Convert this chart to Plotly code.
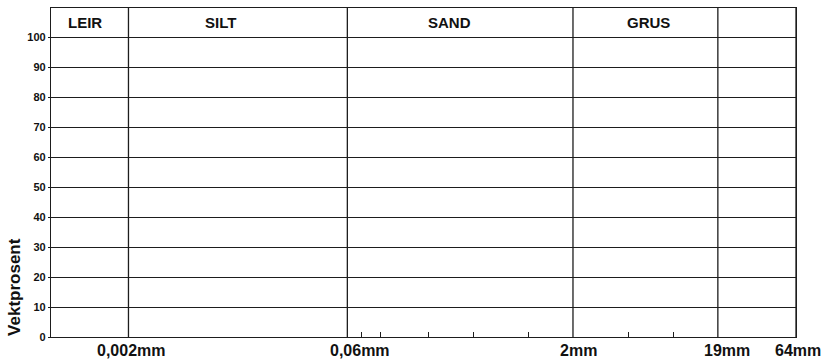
import math
import plotly.graph_objects as go

# Grain-size classes and their boundaries (mm)
SECTIONS = ["LEIR", "SILT", "SAND", "GRUS"]
BOUNDARY_MM = [0.002, 0.06, 2, 19, 64]
BOUNDARY_LABELS = ["0,002mm", "0,06mm", "2mm", "19mm", "64mm"]
# Sieve sizes marked as short ticks on the base line (mm)
SIEVE_MM = [0.075, 0.1, 0.212, 0.425, 1.0, 4.75, 9.5]
PERCENT_TICKS = [0, 10, 20, 30, 40, 50, 60, 70, 80, 90, 100]
Y_TITLE = "Vektprosent"

# Layout constants
X_MIN_MM = 0.0006
Y_TOP = 109.67
INK = "#1d1d1d"
LW = 1.3
FONT = "Liberation Sans, Arial, sans-serif"
NARROW = "Liberation Sans Narrow, Arial Narrow, Liberation Sans, sans-serif"
HEADER_SHIFT = [-5, -17, -11, 3]
LABEL_SHIFT = [3, 13, 6, 9, 2]

fig = go.Figure()

# vertical class boundaries across the full height of the form
vx, vy = [], []
for b in BOUNDARY_MM:
    vx += [b, b, None]
    vy += [0, Y_TOP, None]
fig.add_trace(go.Scatter(x=vx, y=vy, mode="lines",
                         line=dict(color=INK, width=LW),
                         hoverinfo="skip", showlegend=False))

# class names in the header row
edges = [X_MIN_MM] + BOUNDARY_MM
for i, name in enumerate(SECTIONS):
    centre = (math.log10(edges[i]) + math.log10(edges[i + 1])) / 2
    fig.add_annotation(x=centre, y=(100 + Y_TOP) / 2, xref="x", yref="y",
                       text=name, showarrow=False, xanchor="center", yanchor="middle",
                       xshift=HEADER_SHIFT[i],
                       font=dict(family=FONT, size=15, color="#111", weight="bold"))

# boundary size labels under the base line
for i, (b, lab) in enumerate(zip(BOUNDARY_MM, BOUNDARY_LABELS)):
    fig.add_annotation(x=math.log10(b), y=0, xref="x", yref="paper",
                       text=lab, showarrow=False, xanchor="center", yanchor="middle",
                       xshift=LABEL_SHIFT[i], yshift=-13,
                       font=dict(family=FONT, size=16, color="#111", weight="bold"))

# y-axis title
fig.add_annotation(x=0, y=16.7, xref="paper", yref="y", text=Y_TITLE,
                   textangle=-90, showarrow=False, xanchor="center", yanchor="middle",
                   xshift=-36,
                   font=dict(family=FONT, size=17, color="#111", weight="bold"))

fig.update_xaxes(type="log",
                 range=[math.log10(X_MIN_MM), math.log10(BOUNDARY_MM[-1])],
                 tickvals=SIEVE_MM, ticks="inside", ticklen=5, tickwidth=1.2,
                 tickcolor=INK, showticklabels=False, showgrid=False,
                 zeroline=False, showline=True, mirror=True,
                 linecolor=INK, linewidth=LW)
fig.update_yaxes(range=[0, Y_TOP], tickvals=PERCENT_TICKS,
                 ticks="outside", ticklen=2, tickwidth=1.2, tickcolor=INK,
                 tickfont=dict(family=NARROW, size=11, color="#111", weight="bold"),
                 showgrid=True, gridcolor=INK, gridwidth=LW, zeroline=False,
                 showline=True, mirror=True, linecolor=INK, linewidth=LW)

fig.update_layout(width=823, height=361,
                  margin=dict(l=51, r=27, t=8, b=24),
                  plot_bgcolor="white", paper_bgcolor="white",
                  hovermode=False, showlegend=False)

fig.write_html("out.html")
